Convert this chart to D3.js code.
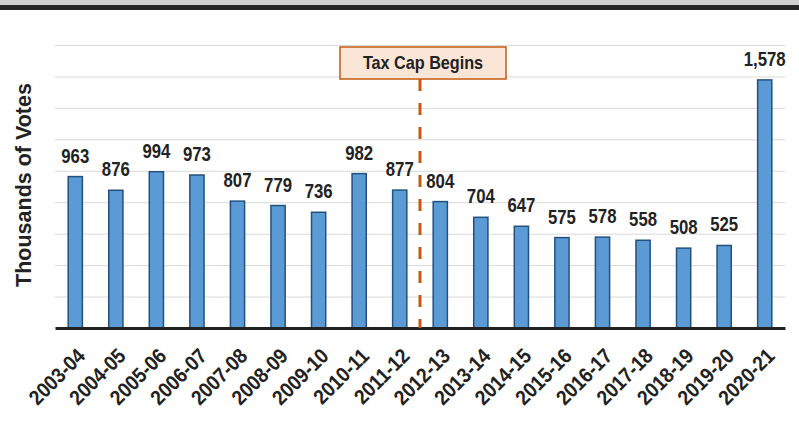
<!DOCTYPE html>
<meta charset="utf-8">
<script src="https://d3js.org/d3.v7.min.js"></script>
<style>
  body { margin: 0; background: #fff; }
</style>
<div id="chart"></div>
<script>
  // data
  var years = ["2003-04","2004-05","2005-06","2006-07","2007-08","2008-09","2009-10","2010-11","2011-12",
               "2012-13","2013-14","2014-15","2015-16","2016-17","2017-18","2018-19","2019-20","2020-21"];
  var votes = [963, 876, 994, 973, 807, 779, 736, 982, 877, 804, 704, 647, 575, 578, 558, 508, 525, 1578];
  var yTicks = [0, 200, 400, 600, 800, 1000, 1200, 1400, 1600, 1800];
  var capAfter = "2011-12";

  var W = 799, H = 427;
  var margin = {top: 45, right: 14, bottom: 99, left: 55},
      width = W - margin.left - margin.right,
      height = H - margin.top - margin.bottom;
  var font = "'Liberation Sans', Arial, sans-serif";
  var squeeze = 0.86; // reference uses a narrow bold face

  var svg = d3.select("#chart").append("svg")
      .attr("width", W).attr("height", H);

  // top band
  svg.append("rect").attr("x", 0).attr("y", 0).attr("width", W).attr("height", 5).attr("fill", "#d0d0d0");
  svg.append("rect").attr("x", 0).attr("y", 5).attr("width", W).attr("height", 5).attr("fill", "#262626");

  var g = svg.append("g").attr("transform", "translate(" + margin.left + "," + margin.top + ")");

  var x = d3.scaleBand().domain(years).range([0, width]).paddingInner(0.65).paddingOuter(0.325);
  var y = d3.scaleLinear().domain([0, 1800]).range([height, 0]);

  // gridlines
  g.append("g")
    .call(d3.axisLeft(y).tickValues(yTicks.slice(1)).tickSize(-width).tickFormat(""))
    .call(function(s) { s.select(".domain").remove(); })
    .selectAll(".tick line").attr("stroke", "#d9d9d9").attr("stroke-width", 1);

  // bars
  g.selectAll(".bar").data(votes).enter().append("rect")
    .attr("class", "bar")
    .attr("x", function(d, i) { return x(years[i]); })
    .attr("y", function(d) { return y(d); })
    .attr("width", x.bandwidth())
    .attr("height", function(d) { return height - y(d); })
    .attr("fill", "#5b9bd5")
    .attr("stroke", "#24507e")
    .attr("stroke-width", 1.5);

  // value labels
  g.selectAll(".lbl").data(votes).enter().append("text")
    .attr("transform", function(d, i) {
      return "translate(" + (x(years[i]) + x.bandwidth() / 2) + "," + (y(d) - 14) + ") scale(" + squeeze + ",1)";
    })
    .attr("text-anchor", "middle")
    .style("font-family", font).style("font-weight", "bold").style("font-size", "19.5px")
    .attr("fill", "#222")
    .text(function(d) { return d3.format(",")(d); });

  // x axis
  var xAxis = g.append("g").attr("transform", "translate(0," + height + ")")
    .call(d3.axisBottom(x).tickSize(0).tickPadding(0));
  xAxis.select(".domain").attr("stroke", "#222").attr("stroke-width", 3);
  xAxis.selectAll("text")
    .attr("text-anchor", "end")
    .attr("y", 0).attr("dy", "0.35em")
    .attr("transform", "translate(6,24) rotate(-45) scale(0.9,1)")
    .style("font-family", font).style("font-weight", "bold").style("font-size", "21px")
    .attr("fill", "#222");

  // tax cap line
  var cx = (x(capAfter) + x.bandwidth() + x(years[years.indexOf(capAfter) + 1])) / 2;
  g.append("line")
    .attr("x1", cx).attr("x2", cx)
    .attr("y1", y(1800) + 34).attr("y2", height)
    .attr("stroke", "#c55a11").attr("stroke-width", 3)
    .attr("stroke-dasharray", "12,12");
  var box = g.append("g").attr("transform", "translate(" + cx + "," + (y(1800) + 2) + ")");
  box.append("rect")
    .attr("x", -80).attr("y", 0).attr("width", 166).attr("height", 32)
    .attr("fill", "#fbe5d6").attr("stroke", "#c55a11").attr("stroke-width", 1.5);
  box.append("text")
    .attr("transform", "translate(3,22) scale(0.9,1)")
    .attr("text-anchor", "middle")
    .style("font-family", font).style("font-weight", "bold").style("font-size", "18px")
    .attr("fill", "#222")
    .text("Tax Cap Begins");

  // y title
  svg.append("text")
    .attr("transform", "translate(31,185) rotate(-90)")
    .attr("text-anchor", "middle")
    .style("font-family", font).style("font-weight", "bold").style("font-size", "21.5px")
    .attr("fill", "#222")
    .text("Thousands of Votes");
</script>
